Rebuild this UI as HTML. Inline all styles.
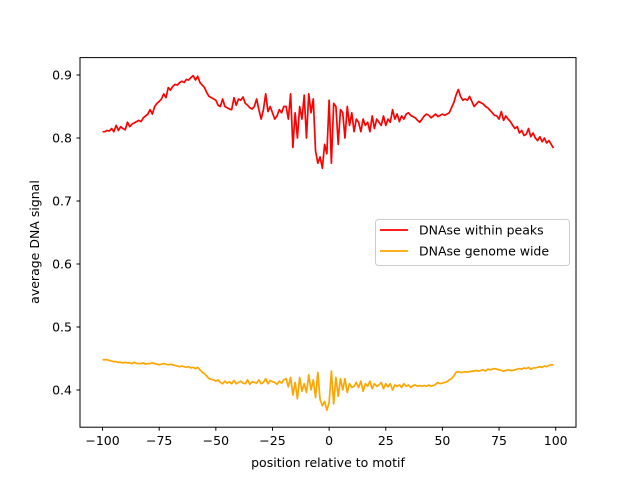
<!DOCTYPE html>
<html><head><meta charset="utf-8"><style>body{margin:0;background:#fff}svg{font-family:"DejaVu Sans","Liberation Sans",sans-serif}</style></head>
<body>
<svg id="chart" width="640" height="480">
<rect width="640" height="480" fill="#fff"/>
<g id="series"></g>
<rect x="80" y="57.6" width="496" height="369.6" fill="none" stroke="#000" stroke-width="1"/>
<g id="axes" font-size="12.5"></g>
<text x="328" y="467" text-anchor="middle" font-size="12.5">position relative to motif</text>
<text transform="translate(39,242) rotate(-90)" text-anchor="middle" font-size="12.5">average DNA signal</text>
<g>
<rect x="375.5" y="219.5" width="194" height="46" rx="3" fill="#fff" fill-opacity="0.8" stroke="#ccc"/>
<g><line x1="380" y1="230" x2="408" y2="230" stroke="red" stroke-width="1.7"/><text x="419" y="234.5" font-size="12.5">DNAse within peaks</text></g>
<g><line x1="380" y1="251" x2="408" y2="251" stroke="orange" stroke-width="1.7"/><text x="419" y="255.5" font-size="12.5">DNAse genome wide</text></g>
</g>
</svg>
<script>
const peaks=[0.810,
0.810,0.812,0.811,0.815,0.810,0.820,0.812,0.818,0.815,0.813,
0.825,0.818,0.822,0.824,0.826,0.828,0.826,0.832,0.835,0.838,
0.845,0.838,0.850,0.855,0.858,0.862,0.870,0.864,0.880,0.876,
0.882,0.885,0.884,0.888,0.890,0.888,0.893,0.892,0.896,0.899,
0.892,0.898,0.888,0.884,0.880,0.872,0.866,0.864,0.862,0.860,
0.852,0.850,0.862,0.850,0.848,0.846,0.845,0.864,0.852,0.862,
0.860,0.865,0.855,0.852,0.848,0.846,0.850,0.862,0.845,0.830,
0.845,0.870,0.842,0.850,0.840,0.830,0.835,0.845,0.840,0.850,
0.850,0.830,0.870,0.785,0.840,0.800,0.850,0.830,0.868,0.800,
0.870,0.840,0.862,0.780,0.760,0.770,0.752,0.790,0.775,0.860,
0.760,0.855,0.850,0.790,0.845,0.840,0.800,0.850,0.820,0.840,
0.810,0.830,0.825,0.810,0.830,0.820,0.825,0.810,0.835,0.815,
0.830,0.825,0.820,0.835,0.820,0.830,0.825,0.845,0.830,0.838,
0.826,0.835,0.830,0.838,0.840,0.836,0.834,0.832,0.828,0.825,
0.830,0.835,0.838,0.836,0.832,0.835,0.838,0.834,0.836,0.838,
0.836,0.838,0.840,0.848,0.856,0.868,0.877,0.866,0.860,0.862,
0.860,0.866,0.858,0.850,0.854,0.858,0.856,0.854,0.850,0.848,
0.844,0.840,0.836,0.835,0.830,0.842,0.828,0.835,0.830,0.826,
0.820,0.815,0.818,0.808,0.812,0.804,0.806,0.815,0.802,0.808,
0.800,0.796,0.802,0.794,0.800,0.792,0.796,0.790,0.784];
const genome=[0.448,
0.448,0.448,0.447,0.446,0.445,0.445,0.444,0.444,0.443,0.444,
0.443,0.443,0.442,0.444,0.442,0.442,0.442,0.443,0.441,0.442,
0.442,0.443,0.442,0.441,0.440,0.441,0.442,0.441,0.440,0.441,
0.440,0.439,0.438,0.437,0.438,0.437,0.436,0.437,0.435,0.436,
0.434,0.436,0.432,0.428,0.426,0.422,0.418,0.417,0.416,0.414,
0.416,0.412,0.410,0.414,0.411,0.413,0.410,0.415,0.410,0.412,
0.414,0.411,0.410,0.416,0.409,0.413,0.412,0.411,0.416,0.410,
0.412,0.418,0.410,0.415,0.413,0.412,0.409,0.414,0.411,0.416,
0.418,0.405,0.420,0.392,0.412,0.386,0.420,0.398,0.410,0.396,
0.424,0.400,0.416,0.388,0.428,0.385,0.375,0.382,0.368,0.380,
0.430,0.378,0.420,0.390,0.418,0.400,0.418,0.396,0.410,0.404,
0.406,0.412,0.404,0.414,0.398,0.410,0.406,0.414,0.402,0.410,
0.406,0.408,0.412,0.402,0.410,0.405,0.410,0.400,0.408,0.406,
0.408,0.404,0.410,0.406,0.408,0.404,0.407,0.408,0.406,0.407,
0.406,0.407,0.406,0.408,0.406,0.407,0.409,0.412,0.410,0.411,
0.412,0.413,0.416,0.418,0.422,0.428,0.429,0.428,0.428,0.429,
0.428,0.429,0.430,0.430,0.431,0.430,0.431,0.432,0.430,0.433,
0.432,0.433,0.434,0.433,0.432,0.431,0.430,0.431,0.432,0.431,
0.431,0.432,0.433,0.434,0.433,0.435,0.434,0.436,0.433,0.435,
0.435,0.436,0.437,0.436,0.438,0.437,0.439,0.440,0.440];
const xTicks=[-100,-75,-50,-25,0,25,50,75,100];
const yTicks=[0.4,0.5,0.6,0.7,0.8,0.9];
const xStart=-100;
const NS="http://www.w3.org/2000/svg";
const xMin=-109.95, xMax=108.95;
function sx(v){return 80+(v-xMin)/(xMax-xMin)*496;}
function sy(v){return 75+(0.9-v)*630;}
const ser=document.getElementById('series');
function draw(arr,color,name){
  const p=document.createElementNS(NS,'polyline');
  p.setAttribute('points',arr.map((v,i)=>sx(xStart+i).toFixed(2)+','+sy(v).toFixed(2)).join(' '));
  p.setAttribute('fill','none');p.setAttribute('stroke',color);p.setAttribute('stroke-width','1.7');p.setAttribute('stroke-linejoin','round');
  
  
  ser.appendChild(p);
}
draw(genome,'orange','line-genome-wide');
draw(peaks,'red','line-within-peaks');
const ax=document.getElementById('axes');
xTicks.forEach(t=>{
  const x=sx(t);
  const l=document.createElementNS(NS,'line');
  l.setAttribute('x1',x);l.setAttribute('x2',x);l.setAttribute('y1',427.2);l.setAttribute('y2',430.7);l.setAttribute('stroke','#000');
  
  
  ax.appendChild(l);
  const tx=document.createElementNS(NS,'text');
  tx.setAttribute('x',x);tx.setAttribute('y',445);tx.setAttribute('text-anchor','middle');
  tx.textContent=t<0?'\u2212'+(-t):String(t);
  
  
  ax.appendChild(tx);
});
yTicks.forEach(t=>{
  const y=sy(t);
  const l=document.createElementNS(NS,'line');
  l.setAttribute('x1',76.5);l.setAttribute('x2',80);l.setAttribute('y1',y);l.setAttribute('y2',y);l.setAttribute('stroke','#000');
  
  
  ax.appendChild(l);
  const tx=document.createElementNS(NS,'text');
  tx.setAttribute('x',72);tx.setAttribute('y',y+4.5);tx.setAttribute('text-anchor','end');
  tx.textContent=t.toFixed(1);
  
  
  ax.appendChild(tx);
});
</script>
</body></html>
